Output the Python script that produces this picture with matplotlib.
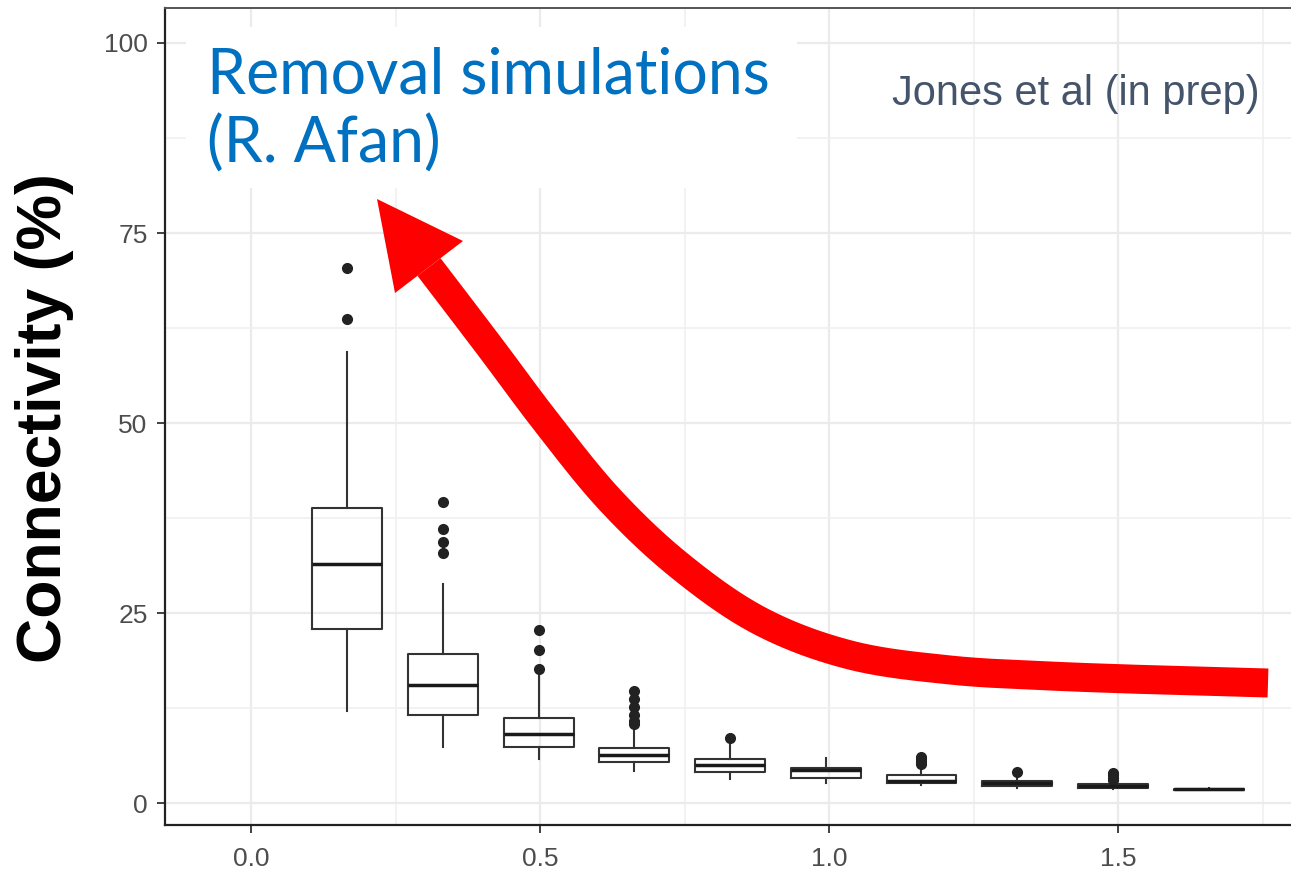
import numpy as np
import matplotlib
matplotlib.use("Agg")
import matplotlib.pyplot as plt
from matplotlib.transforms import Affine2D
from matplotlib.patches import Rectangle, Polygon
from matplotlib.lines import Line2D

# ---- data ----
positions = [0.166, 0.332, 0.498, 0.663, 0.829, 0.995, 1.160, 1.326, 1.492, 1.657]
whislo = [12.1, 7.4, 5.8, 4.3, 3.2, 2.7, 2.45, 2.1, 1.9, 1.75]
q1     = [22.9, 11.6, 7.4, 5.5, 4.1, 3.4, 2.75, 2.25, 2.0, 1.82]
med    = [31.5, 15.6, 9.1, 6.4, 5.0, 4.35, 2.95, 2.75, 2.3, 1.88]
q3     = [38.8, 19.6, 11.3, 7.3, 5.8, 4.65, 3.7, 3.0, 2.6, 1.95]
whishi = [59.4, 28.9, 17.1, 9.7, 7.9, 6.0, 4.8, 3.5, 2.9, 2.0]
fliers = [[70.4, 63.7],
          [39.7, 36.1, 34.4, 33.0],
          [22.8, 20.2, 17.7],
          [14.8, 13.7, 12.7, 11.6, 10.9, 10.5],
          [8.6],
          [],
          [6.1, 5.8, 5.5, 5.2],
          [4.1],
          [4.0, 3.7, 3.4, 3.1],
          []]
xticks = [0.0, 0.5, 1.0, 1.5]
xticklabels = ["0.0", "0.5", "1.0", "1.5"]
yticks = [0, 25, 50, 75, 100]
yticklabels = ["0", "25", "50", "75", "100"]

W, H = 1291, 872
fig = plt.figure(figsize=(W / 100, H / 100), dpi=100)
fig.patch.set_facecolor("white")
ax = fig.add_axes([165 / W, 1 - 825 / H, 1 - 165 / W, (825 - 8) / H])

# pixel transform (x from left, y from top)
px = Affine2D().scale(1 / W, -1 / H).translate(0, 1) + fig.transFigure

stats = [dict(whislo=a, q1=b, med=c, q3=d, whishi=e, fliers=f)
         for a, b, c, d, e, f in zip(whislo, q1, med, q3, whishi, fliers)]
ax.bxp(stats, positions=positions, widths=0.121, manage_ticks=False,
       showcaps=False,
       boxprops=dict(color="#333333", lw=1.5),
       medianprops=dict(color="#1a1a1a", lw=2.5),
       whiskerprops=dict(color="#333333", lw=1.5),
       flierprops=dict(marker="o", markerfacecolor="#222222",
                       markeredgecolor="#222222", markersize=7))

ax.set_xlim((165 - 251) / 578, (1291 - 251) / 578)
ax.set_ylim(-2.83, 104.6)
ax.set_xticks(xticks)
ax.set_xticklabels(xticklabels)
ax.set_yticks(yticks)
ax.set_yticklabels(yticklabels)
ax.set_xticks([0.25, 0.75, 1.25, 1.75], minor=True)
ax.set_yticks([12.5, 37.5, 62.5, 87.5], minor=True)
ax.set_axisbelow(True)
ax.grid(which="major", color="#EBEBEB", lw=1.6)
ax.grid(which="minor", color="#F0F0F0", lw=1.2)
ax.tick_params(which="major", length=5.5, width=1.3, color="#333333",
               labelsize=19, labelcolor="#4D4D4D", pad=7)
ax.tick_params(axis="x", which="major", pad=10)
ax.tick_params(which="minor", length=0)
for lab in ax.get_xticklabels() + ax.get_yticklabels():
    lab.set_family("Liberation Sans")
for s in ("left", "bottom"):
    ax.spines[s].set_color("#222222")
    ax.spines[s].set_linewidth(1.6)
ax.spines["top"].set_color("#555555")
ax.spines["top"].set_linewidth(1.4)
ax.spines["right"].set_visible(False)

# white panel behind the title
ax.add_patch(Rectangle((186, 27), 797 - 186, 188 - 27, transform=px,
                       facecolor="white", edgecolor="none", zorder=1))

# titles
fig.text(207, 93, "Removal simulations", transform=px, family="Lato",
         fontsize=45, color="#0070C0", va="baseline", ha="left", zorder=6)
fig.text(207, 163, "(R. Afan)", transform=px, family="Lato",
         fontsize=45, color="#0070C0", va="baseline", ha="left", zorder=6)
fig.text(892, 105, "Jones et al (in prep)", transform=px,
         family="Liberation Sans", fontsize=30, color="#44546A",
         va="baseline", ha="left", zorder=6)
fig.text(45, 418, "Connectivity (%)", transform=px, family="Liberation Sans",
         fontsize=45, fontweight="bold", color="black", rotation=90,
         ha="center", va="center")

# red curved arrow (annotation)
pts = np.array([(1268, 683), (1160, 680), (1050, 676), (950, 670), (850, 655),
                (760, 621), (680, 566), (610, 500), (547, 423), (490, 347),
                (429, 267)], dtype=float)


def catmull(p, n=40):
    p = np.vstack([2 * p[0] - p[1], p, 2 * p[-1] - p[-2]])
    out = []
    for i in range(1, len(p) - 2):
        p0, p1, p2, p3 = p[i - 1], p[i], p[i + 1], p[i + 2]
        t = np.linspace(0, 1, n, endpoint=False)[:, None]
        out.append(0.5 * ((2 * p1) + (-p0 + p2) * t +
                          (2 * p0 - 5 * p1 + 4 * p2 - p3) * t ** 2 +
                          (-p0 + 3 * p1 - 3 * p2 + p3) * t ** 3))
    out.append(p[-2][None, :])
    return np.vstack(out)


curve = catmull(pts)
fig.add_artist(Line2D(curve[:, 0], curve[:, 1], transform=px, color="#FF0000",
                      lw=29 * 0.72, solid_capstyle="butt",
                      solid_joinstyle="round", zorder=5))
fig.add_artist(Polygon([(377, 199), (463, 241), (395, 293)], closed=True,
                       transform=px, facecolor="#FF0000", edgecolor="none",
                       zorder=5))

fig.savefig("out.png", dpi=100, facecolor="white")
